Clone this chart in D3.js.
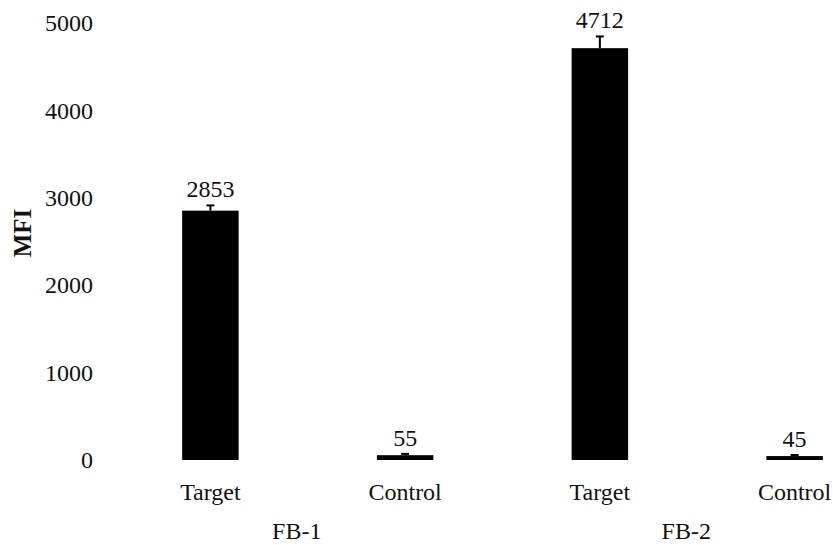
<!DOCTYPE html>
<html><head><meta charset="utf-8">
<script src="https://cdn.jsdelivr.net/npm/d3@7"></script>
<style>body{margin:0;background:#fff}svg{display:block}text{font-family:"Liberation Serif","DejaVu Serif",serif;fill:#111}</style>
</head><body>
<svg id="c" width="833" height="545"></svg>
<script>
const categories = ["Target","Control","Target","Control"];
const groups = ["FB-1","FB-2"];
const values = [2853, 55, 4712, 45];
const errors = [60, 15, 134, 12];
const yTicks = [0,1000,2000,3000,4000,5000];

const svg = d3.select("#c");
const x = d3.scaleBand().domain(d3.range(categories.length)).range([114, 891]).paddingInner(0.71).paddingOuter(0.35);
const y = d3.scaleLinear().domain([0,5000]).range([460, 23]);

const yAxis = d3.axisLeft(y).tickValues(yTicks).tickSize(0).tickPadding(0).tickFormat(d3.format("d"));
const ga = svg.append("g").attr("transform","translate(93,0)").call(yAxis);
ga.select(".domain").remove();
ga.selectAll("text").attr("font-size",24).attr("fill","#111");

svg.append("text").attr("transform","translate(31,233) rotate(-90)").attr("text-anchor","middle")
  .attr("font-size",25).attr("font-weight","bold").text("MFI");

const bw = x.bandwidth();
const cx = i => x(i) + bw/2;

svg.selectAll("rect.bar").data(values).join("rect").attr("class","bar")
  .attr("x",(d,i)=>x(i)).attr("width",bw)
  .attr("y",d=>y(d)).attr("height",d=>y(0)-y(d)).attr("fill","#000");

const eg = svg.append("g").attr("stroke","#000").attr("stroke-width",2);
values.forEach((v,i)=>{
  eg.append("line").attr("x1",cx(i)).attr("x2",cx(i)).attr("y1",y(v)).attr("y2",y(v+errors[i]));
  eg.append("line").attr("x1",cx(i)-4).attr("x2",cx(i)+4).attr("y1",y(v+errors[i])).attr("y2",y(v+errors[i]));
});

svg.selectAll("text.val").data(values).join("text").attr("class","val")
  .attr("x",(d,i)=>cx(i)).attr("y",(d,i)=>y(d+errors[i])-8)
  .attr("text-anchor","middle").attr("font-size",24).text(d=>d);

svg.selectAll("text.cat").data(categories).join("text").attr("class","cat")
  .attr("x",(d,i)=>cx(i)).attr("y",500).attr("text-anchor","middle").attr("font-size",24).text(d=>d);

svg.selectAll("text.grp").data(groups).join("text").attr("class","grp")
  .attr("x",(d,i)=>(cx(2*i)+cx(2*i+1))/2 - 11).attr("y",539).attr("text-anchor","middle").attr("font-size",24).text(d=>d);
</script>
</body></html>
